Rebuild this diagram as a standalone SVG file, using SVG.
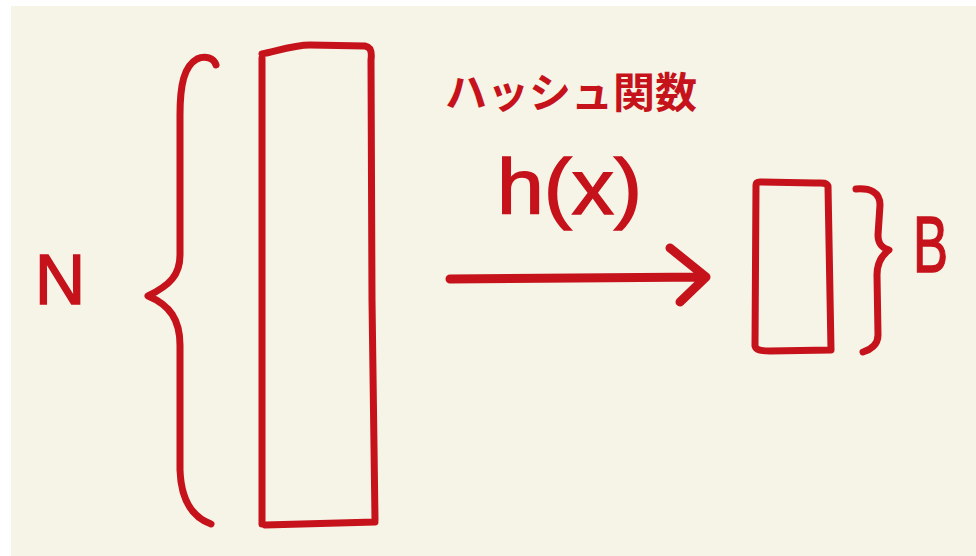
<svg xmlns="http://www.w3.org/2000/svg" width="976" height="556" viewBox="0 0 976 556">
  <style>
    .ink { fill: none; stroke: #c5121b; stroke-width: 7; stroke-linecap: round; stroke-linejoin: round; }
    .thick { stroke-width: 9; }
    .lbl { fill: #c5121b; stroke: #c5121b; stroke-width: 1.5; font-family: "Liberation Sans", "Noto Sans", sans-serif; }
    .jp { fill: #c5121b; font-family: "Noto Sans CJK JP", "Noto Sans", sans-serif; font-weight: bold; }
  </style>
  <rect x="0" y="0" width="976" height="556" fill="#ffffff"/>
  <rect x="11" y="6" width="965" height="550" fill="#f6f3e7"/>

  <g id="big-array">
    <path class="ink" d="M262,58 L262,524 M262,54 C280,50 295,45 310,45 L365,46 C371,47 372,52 371,60 L372,300 L375,520 M265,525 C300,524 340,523 375,522"/>
  </g>

  <g id="brace-N">
    <path class="ink" d="M216,65 C214,58 205,55 197,59 C184,66 180,85 180,115 L180,255 C180,275 170,285 148,296 C170,305 180,320 180,345 L180,470 C181,500 192,517 211,524"/>
  </g>

  <g id="label-N">
    <text class="lbl" x="60" y="304" font-size="70" text-anchor="middle">N</text>
  </g>

  <g id="label-hash">
    <text class="jp" x="571" y="108" font-size="42" text-anchor="middle" textLength="252" lengthAdjust="spacingAndGlyphs">ハッシュ関数</text>
    <text class="lbl" x="497" y="214" font-size="78" textLength="145" lengthAdjust="spacingAndGlyphs">h(x)</text>
  </g>

  <g id="connectors">
    <path class="ink thick" d="M450,279 C540,279 630,277 706,277 M670,248 L706,277 L680,302"/>
  </g>

  <g id="bucket">
    <path class="ink" d="M756,185 L755,346 C756,350 760,351 770,351 L831,350 L828,186 C826,182 822,183 815,183 L760,182 C757,182 756,183 756,185"/>
  </g>

  <g id="brace-B">
    <path class="ink" d="M856,189 C870,188 880,192 880,205 L878,235 C878,245 883,248 889,250 C882,255 877,262 877,275 L878,335 C878,345 870,350 863,352"/>
  </g>

  <g id="label-B">
    <text class="lbl" x="913" y="272" font-size="80" textLength="35" lengthAdjust="spacingAndGlyphs">B</text>
  </g>
</svg>
